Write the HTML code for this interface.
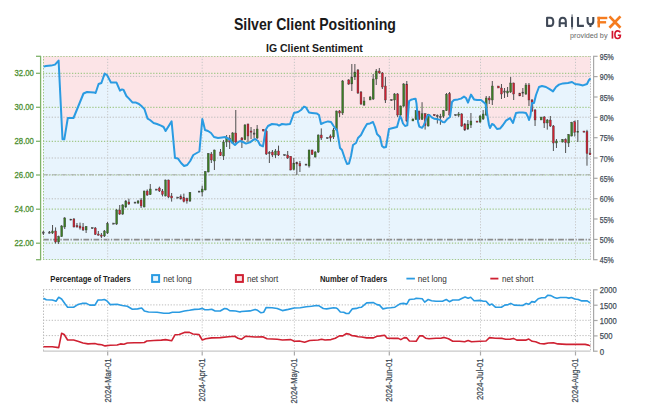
<!DOCTYPE html>
<html><head><meta charset="utf-8"><title>Silver Client Positioning</title>
<style>
html,body{margin:0;padding:0;background:#fff;width:652px;height:410px;overflow:hidden;}
svg{display:block;font-family:"Liberation Sans",sans-serif;}
</style></head>
<body>
<svg width="652" height="410" viewBox="0 0 652 410">
<rect width="652" height="410" fill="#fff"/>
<rect x="43" y="56" width="547.5" height="204" fill="#fce4e7"/>
<polygon points="43,66.6 43.6,66.6 46.0,66.0 51.0,65.6 55.0,64.6 58.6,60.6 62.5,139.3 64.3,139.3 67.8,118.0 73.5,118.0 78.0,107.0 83.5,93.5 87.0,92.0 94.0,92.4 95.6,93.0 98.6,84.0 101.4,83.0 104.6,73.6 107.0,75.0 111.0,82.6 116.4,82.4 120.0,90.6 122.0,89.4 123.6,90.0 126.4,96.0 129.0,98.6 132.4,102.4 136.0,102.6 139.0,104.0 142.0,106.6 144.4,109.0 147.6,118.6 150.0,120.0 153.6,123.0 157.0,124.0 161.0,125.6 163.6,127.0 165.6,131.0 171.6,121.4 175.0,158.0 178.0,158.6 181.1,163.0 184.1,166.0 187.2,165.0 190.2,161.0 193.3,155.0 199.4,151.5 202.3,119.0 203.6,124.0 205.0,130.0 208.0,131.0 211.0,133.0 214.0,137.0 218.0,138.0 222.0,137.4 225.0,137.0 227.0,138.0 230.0,139.6 232.0,142.4 235.0,145.0 237.0,143.0 240.0,141.0 243.0,142.0 246.0,143.6 250.0,142.4 253.0,140.0 255.0,139.0 258.0,141.0 260.0,145.0 263.0,146.4 265.6,130.0 268.0,126.0 272.0,124.0 277.0,124.4 279.0,125.6 282.0,124.0 286.0,124.4 290.0,124.0 294.0,113.0 298.0,112.0 301.0,110.0 304.0,106.6 306.0,107.4 309.0,112.6 312.0,113.0 317.0,113.6 319.0,115.0 321.0,124.0 324.0,122.6 328.0,121.4 331.0,122.0 333.6,126.0 335.0,128.0 337.0,130.0 340.0,148.0 342.0,150.0 345.0,159.0 347.0,164.0 349.0,163.6 351.0,156.0 353.0,145.0 356.0,143.0 358.0,138.0 361.0,135.0 364.0,129.0 367.0,124.0 370.0,123.4 373.0,122.0 375.0,127.0 377.0,134.0 380.0,137.0 382.0,146.0 384.0,147.6 386.0,147.0 389.0,129.0 393.0,128.0 397.0,127.0 400.0,116.2 401.2,118.0 403.0,123.5 405.0,126.0 407.3,125.4 409.1,101.0 411.0,99.8 413.4,99.1 415.6,98.8 416.5,103.4 418.0,121.7 419.3,126.6 422.0,127.8 423.8,125.4 425.6,120.5 427.4,115.6 429.3,115.0 431.7,117.4 434.1,118.7 436.6,119.0 440.2,119.9 442.7,122.0 444.5,122.3 447.0,119.3 450.0,117.0 452.0,102.0 454.0,100.0 458.0,99.4 461.0,98.6 464.0,96.6 466.0,98.0 468.0,102.6 471.0,94.6 474.0,99.4 477.0,100.0 481.0,100.0 484.0,102.6 485.6,104.0 487.0,113.0 489.0,125.0 490.0,128.0 492.0,124.0 494.0,125.0 497.0,129.0 500.0,128.6 503.0,125.0 506.0,120.6 510.0,118.0 513.0,123.0 516.0,113.0 519.0,112.6 523.0,112.6 526.0,113.0 528.0,117.0 529.0,120.0 530.4,116.0 532.0,103.0 534.0,103.0 536.0,95.0 539.0,87.0 542.0,86.0 546.0,87.0 550.0,89.4 553.0,91.4 556.0,87.0 559.0,84.6 563.0,83.4 568.0,83.0 572.0,82.0 575.0,84.0 579.0,84.6 583.0,85.4 587.0,84.0 589.0,80.0 590.5,78.5 590.5,78.5 590.5,260 43,260" fill="#e8f4fd"/>
<line x1="43" y1="73.3" x2="590.5" y2="73.3" stroke="#a3c98b" stroke-width="1.2" stroke-dasharray="1.3 1.6"/>
<line x1="43" y1="107.3" x2="590.5" y2="107.3" stroke="#a3c98b" stroke-width="1.2" stroke-dasharray="1.3 1.6"/>
<line x1="43" y1="141.3" x2="590.5" y2="141.3" stroke="#a3c98b" stroke-width="1.2" stroke-dasharray="1.3 1.6"/>
<line x1="43" y1="175" x2="590.5" y2="175" stroke="#a3c98b" stroke-width="1.2" stroke-dasharray="1.3 1.6"/>
<line x1="43" y1="209.2" x2="590.5" y2="209.2" stroke="#a3c98b" stroke-width="1.2" stroke-dasharray="1.3 1.6"/>
<line x1="43" y1="243.2" x2="590.5" y2="243.2" stroke="#a3c98b" stroke-width="1.2" stroke-dasharray="1.3 1.6"/>
<line x1="43" y1="56.5" x2="590.5" y2="56.5" stroke="#a3c98b" stroke-width="1.2" stroke-dasharray="1.3 1.6"/>
<line x1="43" y1="259.5" x2="590.5" y2="259.5" stroke="#a3c98b" stroke-width="1.2" stroke-dasharray="1.3 1.6"/>
<line x1="43" y1="76.4" x2="590.5" y2="76.4" stroke="#bdbdbd" stroke-width="1" stroke-dasharray="1.3 1.6"/>
<line x1="43" y1="117.2" x2="590.5" y2="117.2" stroke="#bdbdbd" stroke-width="1" stroke-dasharray="1.3 1.6"/>
<line x1="43" y1="158.0" x2="590.5" y2="158.0" stroke="#bdbdbd" stroke-width="1" stroke-dasharray="1.3 1.6"/>
<line x1="43" y1="198.8" x2="590.5" y2="198.8" stroke="#bdbdbd" stroke-width="1" stroke-dasharray="1.3 1.6"/>
<line x1="43" y1="174.8" x2="590.5" y2="174.8" stroke="#9a9a9a" stroke-width="1" stroke-dasharray="5 1.5 1.2 1.5" opacity="0.8"/>
<line x1="43" y1="239.7" x2="590.5" y2="239.7" stroke="#8c8c8c" stroke-width="1.8" stroke-dasharray="5.8 1.5 1.3 1.5"/>
<line x1="107.7" y1="56" x2="107.7" y2="260" stroke="#c6c6c6" stroke-width="1" stroke-dasharray="1.2 1.7"/>
<line x1="202.2" y1="56" x2="202.2" y2="260" stroke="#c6c6c6" stroke-width="1" stroke-dasharray="1.2 1.7"/>
<line x1="294.4" y1="56" x2="294.4" y2="260" stroke="#c6c6c6" stroke-width="1" stroke-dasharray="1.2 1.7"/>
<line x1="389.3" y1="56" x2="389.3" y2="260" stroke="#c6c6c6" stroke-width="1" stroke-dasharray="1.2 1.7"/>
<line x1="480.5" y1="56" x2="480.5" y2="260" stroke="#c6c6c6" stroke-width="1" stroke-dasharray="1.2 1.7"/>
<line x1="575.5" y1="56" x2="575.5" y2="260" stroke="#c6c6c6" stroke-width="1" stroke-dasharray="1.2 1.7"/>
<line x1="43.5" y1="56" x2="43.5" y2="260" stroke="#a3c98b" stroke-width="1" stroke-dasharray="1.5 1.5"/>
<line x1="590.5" y1="56" x2="590.5" y2="260" stroke="#bdbdbd" stroke-width="1" stroke-dasharray="1.3 1.4"/>
<rect x="42.87" y="231.0" width="1" height="4.0" fill="#505050"/>
<rect x="42.42" y="232.0" width="1.9" height="1.2" fill="#555" stroke="#3a3a3a" stroke-width="0.35"/>
<rect x="48.97" y="231.0" width="1" height="2.5" fill="#505050"/>
<rect x="48.52" y="232.0" width="1.9" height="1.2" fill="#555" stroke="#3a3a3a" stroke-width="0.35"/>
<rect x="52.03" y="225.0" width="1" height="9.0" fill="#505050"/>
<rect x="51.58" y="231.0" width="1.9" height="2.0" fill="#3b7d24" stroke="#3a3a3a" stroke-width="0.35"/>
<rect x="55.08" y="227.4" width="1" height="16.2" fill="#505050"/>
<rect x="54.63" y="231.0" width="1.9" height="11.0" fill="#cf2132" stroke="#3a3a3a" stroke-width="0.35"/>
<rect x="58.14" y="235.6" width="1" height="8.4" fill="#505050"/>
<rect x="57.69" y="236.6" width="1.9" height="5.4" fill="#3b7d24" stroke="#3a3a3a" stroke-width="0.35"/>
<rect x="61.19" y="225.0" width="1" height="12.0" fill="#505050"/>
<rect x="60.74" y="226.0" width="1.9" height="10.6" fill="#3b7d24" stroke="#3a3a3a" stroke-width="0.35"/>
<rect x="64.24" y="217.0" width="1" height="12.0" fill="#505050"/>
<rect x="63.79" y="218.0" width="1.9" height="9.0" fill="#3b7d24" stroke="#3a3a3a" stroke-width="0.35"/>
<rect x="70.35" y="219.0" width="1" height="1.0" fill="#505050"/>
<rect x="69.90" y="219.0" width="1.9" height="1.2" fill="#555" stroke="#3a3a3a" stroke-width="0.35"/>
<rect x="73.41" y="218.0" width="1" height="9.4" fill="#505050"/>
<rect x="72.96" y="219.0" width="1.9" height="8.0" fill="#cf2132" stroke="#3a3a3a" stroke-width="0.35"/>
<rect x="76.46" y="223.0" width="1" height="4.6" fill="#505050"/>
<rect x="76.01" y="225.6" width="1.9" height="1.4" fill="#cf2132" stroke="#3a3a3a" stroke-width="0.35"/>
<rect x="79.51" y="222.6" width="1" height="7.0" fill="#505050"/>
<rect x="79.06" y="226.0" width="1.9" height="2.0" fill="#cf2132" stroke="#3a3a3a" stroke-width="0.35"/>
<rect x="82.57" y="223.0" width="1" height="8.0" fill="#505050"/>
<rect x="82.12" y="227.0" width="1.9" height="3.0" fill="#cf2132" stroke="#3a3a3a" stroke-width="0.35"/>
<rect x="85.62" y="226.0" width="1" height="7.0" fill="#505050"/>
<rect x="85.17" y="226.4" width="1.9" height="3.6" fill="#3b7d24" stroke="#3a3a3a" stroke-width="0.35"/>
<rect x="91.73" y="227.5" width="1" height="1.0" fill="#505050"/>
<rect x="91.28" y="227.5" width="1.9" height="1.2" fill="#555" stroke="#3a3a3a" stroke-width="0.35"/>
<rect x="94.78" y="227.0" width="1" height="8.0" fill="#505050"/>
<rect x="94.33" y="228.0" width="1.9" height="6.4" fill="#cf2132" stroke="#3a3a3a" stroke-width="0.35"/>
<rect x="97.84" y="231.0" width="1" height="4.6" fill="#505050"/>
<rect x="97.39" y="234.0" width="1.9" height="1.2" fill="#cf2132" stroke="#3a3a3a" stroke-width="0.35"/>
<rect x="100.89" y="233.0" width="1" height="5.0" fill="#505050"/>
<rect x="100.44" y="235.0" width="1.9" height="1.2" fill="#cf2132" stroke="#3a3a3a" stroke-width="0.35"/>
<rect x="103.95" y="230.0" width="1" height="7.0" fill="#505050"/>
<rect x="103.50" y="231.0" width="1.9" height="5.0" fill="#3b7d24" stroke="#3a3a3a" stroke-width="0.35"/>
<rect x="107.00" y="222.0" width="1" height="12.0" fill="#505050"/>
<rect x="106.55" y="223.6" width="1.9" height="9.4" fill="#3b7d24" stroke="#3a3a3a" stroke-width="0.35"/>
<rect x="113.11" y="223.0" width="1" height="1.0" fill="#505050"/>
<rect x="112.66" y="223.0" width="1.9" height="1.2" fill="#555" stroke="#3a3a3a" stroke-width="0.35"/>
<rect x="116.16" y="209.0" width="1" height="16.0" fill="#505050"/>
<rect x="115.71" y="210.0" width="1.9" height="14.0" fill="#3b7d24" stroke="#3a3a3a" stroke-width="0.35"/>
<rect x="119.22" y="205.0" width="1" height="10.0" fill="#505050"/>
<rect x="118.77" y="210.0" width="1.9" height="4.0" fill="#cf2132" stroke="#3a3a3a" stroke-width="0.35"/>
<rect x="122.27" y="204.0" width="1" height="11.0" fill="#505050"/>
<rect x="121.82" y="205.0" width="1.9" height="9.0" fill="#3b7d24" stroke="#3a3a3a" stroke-width="0.35"/>
<rect x="125.32" y="200.0" width="1" height="8.0" fill="#505050"/>
<rect x="124.87" y="201.0" width="1.9" height="6.0" fill="#3b7d24" stroke="#3a3a3a" stroke-width="0.35"/>
<rect x="128.38" y="198.6" width="1" height="6.4" fill="#505050"/>
<rect x="127.93" y="202.0" width="1.9" height="2.0" fill="#cf2132" stroke="#3a3a3a" stroke-width="0.35"/>
<rect x="134.49" y="202.0" width="1" height="1.0" fill="#505050"/>
<rect x="134.04" y="202.0" width="1.9" height="1.2" fill="#555" stroke="#3a3a3a" stroke-width="0.35"/>
<rect x="137.54" y="200.0" width="1" height="4.0" fill="#505050"/>
<rect x="137.09" y="201.0" width="1.9" height="2.0" fill="#3b7d24" stroke="#3a3a3a" stroke-width="0.35"/>
<rect x="140.59" y="198.0" width="1" height="10.0" fill="#505050"/>
<rect x="140.14" y="200.0" width="1.9" height="6.0" fill="#cf2132" stroke="#3a3a3a" stroke-width="0.35"/>
<rect x="143.65" y="190.6" width="1" height="16.8" fill="#505050"/>
<rect x="143.20" y="191.0" width="1.9" height="16.0" fill="#3b7d24" stroke="#3a3a3a" stroke-width="0.35"/>
<rect x="146.70" y="189.4" width="1" height="6.6" fill="#505050"/>
<rect x="146.25" y="191.0" width="1.9" height="4.0" fill="#cf2132" stroke="#3a3a3a" stroke-width="0.35"/>
<rect x="149.76" y="184.0" width="1" height="11.0" fill="#505050"/>
<rect x="149.31" y="189.0" width="1.9" height="5.6" fill="#3b7d24" stroke="#3a3a3a" stroke-width="0.35"/>
<rect x="155.86" y="189.0" width="1" height="1.0" fill="#505050"/>
<rect x="155.41" y="189.0" width="1.9" height="1.2" fill="#555" stroke="#3a3a3a" stroke-width="0.35"/>
<rect x="158.92" y="186.6" width="1" height="5.4" fill="#505050"/>
<rect x="158.47" y="188.0" width="1.9" height="3.0" fill="#cf2132" stroke="#3a3a3a" stroke-width="0.35"/>
<rect x="161.97" y="189.0" width="1" height="7.4" fill="#505050"/>
<rect x="161.52" y="191.0" width="1.9" height="3.4" fill="#cf2132" stroke="#3a3a3a" stroke-width="0.35"/>
<rect x="165.03" y="179.6" width="1" height="16.8" fill="#505050"/>
<rect x="164.58" y="180.0" width="1.9" height="16.0" fill="#3b7d24" stroke="#3a3a3a" stroke-width="0.35"/>
<rect x="168.08" y="179.6" width="1" height="18.4" fill="#505050"/>
<rect x="167.63" y="180.0" width="1.9" height="17.0" fill="#cf2132" stroke="#3a3a3a" stroke-width="0.35"/>
<rect x="171.13" y="193.0" width="1" height="8.6" fill="#505050"/>
<rect x="170.68" y="196.0" width="1.9" height="2.0" fill="#cf2132" stroke="#3a3a3a" stroke-width="0.35"/>
<rect x="177.24" y="197.0" width="1" height="1.0" fill="#505050"/>
<rect x="176.79" y="197.0" width="1.9" height="1.2" fill="#555" stroke="#3a3a3a" stroke-width="0.35"/>
<rect x="180.30" y="194.4" width="1" height="5.2" fill="#505050"/>
<rect x="179.85" y="196.4" width="1.9" height="2.6" fill="#cf2132" stroke="#3a3a3a" stroke-width="0.35"/>
<rect x="183.35" y="193.6" width="1" height="8.8" fill="#505050"/>
<rect x="182.90" y="197.6" width="1.9" height="4.0" fill="#cf2132" stroke="#3a3a3a" stroke-width="0.35"/>
<rect x="186.40" y="197.6" width="1" height="6.0" fill="#505050"/>
<rect x="185.95" y="198.4" width="1.9" height="2.6" fill="#cf2132" stroke="#3a3a3a" stroke-width="0.35"/>
<rect x="189.46" y="192.0" width="1" height="10.0" fill="#505050"/>
<rect x="189.01" y="192.4" width="1.9" height="8.6" fill="#3b7d24" stroke="#3a3a3a" stroke-width="0.35"/>
<rect x="198.62" y="191.0" width="1" height="1.0" fill="#505050"/>
<rect x="198.17" y="191.0" width="1.9" height="1.2" fill="#555" stroke="#3a3a3a" stroke-width="0.35"/>
<rect x="201.67" y="185.6" width="1" height="10.8" fill="#505050"/>
<rect x="201.22" y="189.0" width="1.9" height="3.0" fill="#3b7d24" stroke="#3a3a3a" stroke-width="0.35"/>
<rect x="204.73" y="171.0" width="1" height="19.4" fill="#505050"/>
<rect x="204.28" y="171.6" width="1.9" height="18.4" fill="#3b7d24" stroke="#3a3a3a" stroke-width="0.35"/>
<rect x="207.78" y="153.0" width="1" height="19.4" fill="#505050"/>
<rect x="207.33" y="153.6" width="1.9" height="18.4" fill="#3b7d24" stroke="#3a3a3a" stroke-width="0.35"/>
<rect x="210.84" y="152.0" width="1" height="11.0" fill="#505050"/>
<rect x="210.39" y="154.0" width="1.9" height="6.0" fill="#cf2132" stroke="#3a3a3a" stroke-width="0.35"/>
<rect x="213.89" y="149.6" width="1" height="20.4" fill="#505050"/>
<rect x="213.44" y="150.0" width="1.9" height="11.0" fill="#3b7d24" stroke="#3a3a3a" stroke-width="0.35"/>
<rect x="220.00" y="149.0" width="1" height="7.0" fill="#505050"/>
<rect x="219.55" y="152.0" width="1.9" height="3.6" fill="#cf2132" stroke="#3a3a3a" stroke-width="0.35"/>
<rect x="223.05" y="140.0" width="1" height="20.0" fill="#505050"/>
<rect x="222.60" y="142.0" width="1.9" height="14.0" fill="#3b7d24" stroke="#3a3a3a" stroke-width="0.35"/>
<rect x="226.11" y="135.0" width="1" height="12.0" fill="#505050"/>
<rect x="225.66" y="138.0" width="1.9" height="4.0" fill="#3b7d24" stroke="#3a3a3a" stroke-width="0.35"/>
<rect x="229.16" y="135.0" width="1" height="14.0" fill="#505050"/>
<rect x="228.71" y="138.0" width="1.9" height="4.0" fill="#cf2132" stroke="#3a3a3a" stroke-width="0.35"/>
<rect x="232.21" y="132.0" width="1" height="12.0" fill="#505050"/>
<rect x="231.76" y="133.0" width="1.9" height="10.0" fill="#3b7d24" stroke="#3a3a3a" stroke-width="0.35"/>
<rect x="235.27" y="110.0" width="1" height="33.0" fill="#505050"/>
<rect x="234.82" y="133.0" width="1.9" height="9.0" fill="#cf2132" stroke="#3a3a3a" stroke-width="0.35"/>
<rect x="241.38" y="137.0" width="1" height="11.0" fill="#505050"/>
<rect x="240.93" y="138.0" width="1.9" height="2.0" fill="#cf2132" stroke="#3a3a3a" stroke-width="0.35"/>
<rect x="244.43" y="124.0" width="1" height="16.0" fill="#505050"/>
<rect x="243.98" y="125.0" width="1.9" height="14.6" fill="#3b7d24" stroke="#3a3a3a" stroke-width="0.35"/>
<rect x="247.48" y="123.6" width="1" height="18.4" fill="#505050"/>
<rect x="247.03" y="124.0" width="1.9" height="12.0" fill="#cf2132" stroke="#3a3a3a" stroke-width="0.35"/>
<rect x="250.54" y="127.0" width="1" height="12.0" fill="#505050"/>
<rect x="250.09" y="131.0" width="1.9" height="1.2" fill="#cf2132" stroke="#3a3a3a" stroke-width="0.35"/>
<rect x="253.59" y="129.0" width="1" height="9.0" fill="#505050"/>
<rect x="253.14" y="133.0" width="1.9" height="1.2" fill="#555" stroke="#3a3a3a" stroke-width="0.35"/>
<rect x="256.65" y="125.0" width="1" height="14.0" fill="#505050"/>
<rect x="256.20" y="129.0" width="1.9" height="9.0" fill="#3b7d24" stroke="#3a3a3a" stroke-width="0.35"/>
<rect x="262.75" y="129.0" width="1" height="2.4" fill="#505050"/>
<rect x="262.30" y="129.4" width="1.9" height="1.6" fill="#cf2132" stroke="#3a3a3a" stroke-width="0.35"/>
<rect x="265.81" y="130.0" width="1" height="25.0" fill="#505050"/>
<rect x="265.36" y="131.0" width="1.9" height="23.0" fill="#cf2132" stroke="#3a3a3a" stroke-width="0.35"/>
<rect x="268.86" y="151.0" width="1" height="12.0" fill="#505050"/>
<rect x="268.41" y="152.5" width="1.9" height="1.2" fill="#555" stroke="#3a3a3a" stroke-width="0.35"/>
<rect x="271.92" y="150.0" width="1" height="7.0" fill="#505050"/>
<rect x="271.47" y="152.0" width="1.9" height="3.0" fill="#cf2132" stroke="#3a3a3a" stroke-width="0.35"/>
<rect x="274.97" y="149.0" width="1" height="9.0" fill="#505050"/>
<rect x="274.52" y="151.0" width="1.9" height="4.0" fill="#3b7d24" stroke="#3a3a3a" stroke-width="0.35"/>
<rect x="278.02" y="145.6" width="1" height="10.4" fill="#505050"/>
<rect x="277.57" y="151.0" width="1.9" height="4.0" fill="#cf2132" stroke="#3a3a3a" stroke-width="0.35"/>
<rect x="284.13" y="154.5" width="1" height="1.0" fill="#505050"/>
<rect x="283.68" y="154.5" width="1.9" height="1.2" fill="#555" stroke="#3a3a3a" stroke-width="0.35"/>
<rect x="287.19" y="151.0" width="1" height="8.0" fill="#505050"/>
<rect x="286.74" y="155.0" width="1.9" height="3.0" fill="#cf2132" stroke="#3a3a3a" stroke-width="0.35"/>
<rect x="290.24" y="156.0" width="1" height="14.4" fill="#505050"/>
<rect x="289.79" y="156.4" width="1.9" height="13.6" fill="#cf2132" stroke="#3a3a3a" stroke-width="0.35"/>
<rect x="293.29" y="158.0" width="1" height="12.4" fill="#505050"/>
<rect x="292.84" y="163.0" width="1.9" height="6.6" fill="#3b7d24" stroke="#3a3a3a" stroke-width="0.35"/>
<rect x="296.35" y="161.6" width="1" height="13.4" fill="#505050"/>
<rect x="295.90" y="162.4" width="1.9" height="1.6" fill="#cf2132" stroke="#3a3a3a" stroke-width="0.35"/>
<rect x="299.40" y="161.0" width="1" height="11.0" fill="#505050"/>
<rect x="298.95" y="163.6" width="1.9" height="2.4" fill="#cf2132" stroke="#3a3a3a" stroke-width="0.35"/>
<rect x="305.51" y="164.0" width="1" height="1.0" fill="#505050"/>
<rect x="305.06" y="164.0" width="1.9" height="1.2" fill="#555" stroke="#3a3a3a" stroke-width="0.35"/>
<rect x="308.56" y="149.6" width="1" height="18.0" fill="#505050"/>
<rect x="308.11" y="150.0" width="1.9" height="16.0" fill="#3b7d24" stroke="#3a3a3a" stroke-width="0.35"/>
<rect x="311.62" y="149.6" width="1" height="5.4" fill="#505050"/>
<rect x="311.17" y="150.0" width="1.9" height="4.4" fill="#cf2132" stroke="#3a3a3a" stroke-width="0.35"/>
<rect x="314.67" y="151.0" width="1" height="6.6" fill="#505050"/>
<rect x="314.22" y="152.0" width="1.9" height="5.0" fill="#3b7d24" stroke="#3a3a3a" stroke-width="0.35"/>
<rect x="317.73" y="134.4" width="1" height="18.6" fill="#505050"/>
<rect x="317.28" y="135.0" width="1.9" height="17.0" fill="#3b7d24" stroke="#3a3a3a" stroke-width="0.35"/>
<rect x="320.78" y="128.4" width="1" height="11.6" fill="#505050"/>
<rect x="320.33" y="135.0" width="1.9" height="3.0" fill="#cf2132" stroke="#3a3a3a" stroke-width="0.35"/>
<rect x="326.89" y="137.5" width="1" height="1.0" fill="#505050"/>
<rect x="326.44" y="137.5" width="1.9" height="1.2" fill="#555" stroke="#3a3a3a" stroke-width="0.35"/>
<rect x="329.94" y="134.4" width="1" height="7.2" fill="#505050"/>
<rect x="329.49" y="136.0" width="1.9" height="2.0" fill="#cf2132" stroke="#3a3a3a" stroke-width="0.35"/>
<rect x="333.00" y="128.0" width="1" height="11.0" fill="#505050"/>
<rect x="332.55" y="130.0" width="1.9" height="7.0" fill="#3b7d24" stroke="#3a3a3a" stroke-width="0.35"/>
<rect x="336.05" y="110.6" width="1" height="20.4" fill="#505050"/>
<rect x="335.60" y="111.0" width="1.9" height="19.0" fill="#3b7d24" stroke="#3a3a3a" stroke-width="0.35"/>
<rect x="339.10" y="110.0" width="1" height="7.0" fill="#505050"/>
<rect x="338.65" y="111.0" width="1.9" height="2.0" fill="#cf2132" stroke="#3a3a3a" stroke-width="0.35"/>
<rect x="342.16" y="80.0" width="1" height="35.0" fill="#505050"/>
<rect x="341.71" y="81.0" width="1.9" height="32.0" fill="#3b7d24" stroke="#3a3a3a" stroke-width="0.35"/>
<rect x="348.27" y="79.0" width="1" height="6.0" fill="#505050"/>
<rect x="347.82" y="80.0" width="1.9" height="4.0" fill="#cf2132" stroke="#3a3a3a" stroke-width="0.35"/>
<rect x="351.32" y="64.0" width="1" height="27.0" fill="#505050"/>
<rect x="350.87" y="77.0" width="1.9" height="7.0" fill="#3b7d24" stroke="#3a3a3a" stroke-width="0.35"/>
<rect x="354.37" y="64.0" width="1" height="16.0" fill="#505050"/>
<rect x="353.92" y="72.0" width="1.9" height="5.0" fill="#3b7d24" stroke="#3a3a3a" stroke-width="0.35"/>
<rect x="357.43" y="69.0" width="1" height="25.0" fill="#505050"/>
<rect x="356.98" y="70.0" width="1.9" height="23.0" fill="#cf2132" stroke="#3a3a3a" stroke-width="0.35"/>
<rect x="360.48" y="91.0" width="1" height="14.0" fill="#505050"/>
<rect x="360.03" y="92.0" width="1.9" height="12.0" fill="#cf2132" stroke="#3a3a3a" stroke-width="0.35"/>
<rect x="363.54" y="97.0" width="1" height="9.0" fill="#505050"/>
<rect x="363.09" y="101.0" width="1.9" height="4.0" fill="#3b7d24" stroke="#3a3a3a" stroke-width="0.35"/>
<rect x="369.64" y="96.0" width="1" height="4.0" fill="#505050"/>
<rect x="369.19" y="97.0" width="1.9" height="3.0" fill="#3b7d24" stroke="#3a3a3a" stroke-width="0.35"/>
<rect x="372.70" y="74.0" width="1" height="26.0" fill="#505050"/>
<rect x="372.25" y="79.0" width="1.9" height="20.0" fill="#3b7d24" stroke="#3a3a3a" stroke-width="0.35"/>
<rect x="375.75" y="69.0" width="1" height="16.0" fill="#505050"/>
<rect x="375.30" y="71.0" width="1.9" height="8.0" fill="#3b7d24" stroke="#3a3a3a" stroke-width="0.35"/>
<rect x="378.81" y="68.0" width="1" height="6.0" fill="#505050"/>
<rect x="378.36" y="71.0" width="1.9" height="2.0" fill="#cf2132" stroke="#3a3a3a" stroke-width="0.35"/>
<rect x="381.86" y="72.0" width="1" height="17.0" fill="#505050"/>
<rect x="381.41" y="73.0" width="1.9" height="14.0" fill="#cf2132" stroke="#3a3a3a" stroke-width="0.35"/>
<rect x="384.91" y="77.0" width="1" height="26.0" fill="#505050"/>
<rect x="384.46" y="86.0" width="1.9" height="14.0" fill="#cf2132" stroke="#3a3a3a" stroke-width="0.35"/>
<rect x="391.02" y="99.5" width="1" height="1.0" fill="#505050"/>
<rect x="390.57" y="99.5" width="1.9" height="1.2" fill="#555" stroke="#3a3a3a" stroke-width="0.35"/>
<rect x="394.08" y="93.0" width="1" height="17.0" fill="#505050"/>
<rect x="393.63" y="94.0" width="1.9" height="6.0" fill="#3b7d24" stroke="#3a3a3a" stroke-width="0.35"/>
<rect x="397.13" y="93.0" width="1" height="24.0" fill="#505050"/>
<rect x="396.68" y="94.0" width="1.9" height="21.0" fill="#cf2132" stroke="#3a3a3a" stroke-width="0.35"/>
<rect x="400.18" y="105.5" width="1" height="11.5" fill="#505050"/>
<rect x="399.73" y="106.0" width="1.9" height="9.0" fill="#3b7d24" stroke="#3a3a3a" stroke-width="0.35"/>
<rect x="403.24" y="83.0" width="1" height="24.0" fill="#505050"/>
<rect x="402.79" y="84.0" width="1.9" height="22.0" fill="#3b7d24" stroke="#3a3a3a" stroke-width="0.35"/>
<rect x="406.29" y="81.0" width="1" height="41.0" fill="#505050"/>
<rect x="405.84" y="84.0" width="1.9" height="37.0" fill="#cf2132" stroke="#3a3a3a" stroke-width="0.35"/>
<rect x="412.40" y="118.5" width="1" height="2.5" fill="#505050"/>
<rect x="411.95" y="119.0" width="1.9" height="2.0" fill="#3b7d24" stroke="#3a3a3a" stroke-width="0.35"/>
<rect x="415.45" y="110.0" width="1" height="10.0" fill="#505050"/>
<rect x="415.00" y="110.7" width="1.9" height="8.6" fill="#3b7d24" stroke="#3a3a3a" stroke-width="0.35"/>
<rect x="418.51" y="110.5" width="1" height="9.5" fill="#505050"/>
<rect x="418.06" y="111.3" width="1.9" height="8.0" fill="#cf2132" stroke="#3a3a3a" stroke-width="0.35"/>
<rect x="421.56" y="102.2" width="1" height="17.8" fill="#505050"/>
<rect x="421.11" y="113.8" width="1.9" height="5.5" fill="#3b7d24" stroke="#3a3a3a" stroke-width="0.35"/>
<rect x="424.62" y="113.2" width="1" height="16.4" fill="#505050"/>
<rect x="424.17" y="113.8" width="1.9" height="11.6" fill="#cf2132" stroke="#3a3a3a" stroke-width="0.35"/>
<rect x="427.67" y="113.8" width="1" height="12.8" fill="#505050"/>
<rect x="427.22" y="114.4" width="1.9" height="11.6" fill="#3b7d24" stroke="#3a3a3a" stroke-width="0.35"/>
<rect x="433.78" y="114.4" width="1" height="1.6" fill="#505050"/>
<rect x="433.33" y="114.4" width="1.9" height="1.2" fill="#cf2132" stroke="#3a3a3a" stroke-width="0.35"/>
<rect x="436.83" y="114.4" width="1" height="9.1" fill="#505050"/>
<rect x="436.38" y="115.5" width="1.9" height="1.2" fill="#555" stroke="#3a3a3a" stroke-width="0.35"/>
<rect x="439.89" y="113.8" width="1" height="11.0" fill="#505050"/>
<rect x="439.44" y="116.5" width="1.9" height="1.2" fill="#555" stroke="#3a3a3a" stroke-width="0.35"/>
<rect x="442.94" y="110.0" width="1" height="8.0" fill="#505050"/>
<rect x="442.49" y="110.7" width="1.9" height="5.5" fill="#3b7d24" stroke="#3a3a3a" stroke-width="0.35"/>
<rect x="445.99" y="93.0" width="1" height="18.0" fill="#505050"/>
<rect x="445.54" y="94.3" width="1.9" height="16.4" fill="#3b7d24" stroke="#3a3a3a" stroke-width="0.35"/>
<rect x="449.05" y="92.0" width="1" height="24.0" fill="#505050"/>
<rect x="448.60" y="93.7" width="1.9" height="21.3" fill="#cf2132" stroke="#3a3a3a" stroke-width="0.35"/>
<rect x="455.16" y="114.5" width="1" height="1.0" fill="#505050"/>
<rect x="454.71" y="114.5" width="1.9" height="1.2" fill="#555" stroke="#3a3a3a" stroke-width="0.35"/>
<rect x="458.21" y="112.0" width="1" height="5.0" fill="#505050"/>
<rect x="457.76" y="114.0" width="1.9" height="1.2" fill="#3b7d24" stroke="#3a3a3a" stroke-width="0.35"/>
<rect x="461.26" y="113.0" width="1" height="14.0" fill="#505050"/>
<rect x="460.81" y="114.0" width="1.9" height="12.0" fill="#cf2132" stroke="#3a3a3a" stroke-width="0.35"/>
<rect x="464.32" y="123.0" width="1" height="8.0" fill="#505050"/>
<rect x="463.87" y="124.0" width="1.9" height="6.0" fill="#cf2132" stroke="#3a3a3a" stroke-width="0.35"/>
<rect x="467.37" y="120.0" width="1" height="10.0" fill="#505050"/>
<rect x="466.92" y="124.0" width="1.9" height="5.0" fill="#3b7d24" stroke="#3a3a3a" stroke-width="0.35"/>
<rect x="470.43" y="113.0" width="1" height="15.0" fill="#505050"/>
<rect x="469.98" y="121.0" width="1.9" height="4.0" fill="#3b7d24" stroke="#3a3a3a" stroke-width="0.35"/>
<rect x="476.53" y="121.0" width="1" height="1.0" fill="#505050"/>
<rect x="476.08" y="121.0" width="1.9" height="1.2" fill="#cf2132" stroke="#3a3a3a" stroke-width="0.35"/>
<rect x="479.59" y="115.0" width="1" height="8.0" fill="#505050"/>
<rect x="479.14" y="116.0" width="1.9" height="6.0" fill="#3b7d24" stroke="#3a3a3a" stroke-width="0.35"/>
<rect x="482.64" y="110.0" width="1" height="10.0" fill="#505050"/>
<rect x="482.19" y="114.0" width="1.9" height="5.0" fill="#3b7d24" stroke="#3a3a3a" stroke-width="0.35"/>
<rect x="485.70" y="96.0" width="1" height="20.0" fill="#505050"/>
<rect x="485.25" y="98.0" width="1.9" height="17.0" fill="#3b7d24" stroke="#3a3a3a" stroke-width="0.35"/>
<rect x="488.75" y="96.0" width="1" height="8.0" fill="#505050"/>
<rect x="488.30" y="98.0" width="1.9" height="2.0" fill="#cf2132" stroke="#3a3a3a" stroke-width="0.35"/>
<rect x="491.80" y="81.0" width="1" height="24.0" fill="#505050"/>
<rect x="491.35" y="86.0" width="1.9" height="14.0" fill="#3b7d24" stroke="#3a3a3a" stroke-width="0.35"/>
<rect x="497.91" y="86.0" width="1" height="2.0" fill="#505050"/>
<rect x="497.46" y="86.0" width="1.9" height="2.0" fill="#cf2132" stroke="#3a3a3a" stroke-width="0.35"/>
<rect x="500.97" y="84.0" width="1" height="15.0" fill="#505050"/>
<rect x="500.52" y="88.0" width="1.9" height="6.0" fill="#cf2132" stroke="#3a3a3a" stroke-width="0.35"/>
<rect x="504.02" y="88.0" width="1" height="10.0" fill="#505050"/>
<rect x="503.57" y="91.0" width="1.9" height="1.2" fill="#555" stroke="#3a3a3a" stroke-width="0.35"/>
<rect x="507.07" y="87.0" width="1" height="10.0" fill="#505050"/>
<rect x="506.62" y="91.0" width="1.9" height="2.0" fill="#3b7d24" stroke="#3a3a3a" stroke-width="0.35"/>
<rect x="510.13" y="77.0" width="1" height="16.0" fill="#505050"/>
<rect x="509.68" y="83.0" width="1.9" height="9.0" fill="#3b7d24" stroke="#3a3a3a" stroke-width="0.35"/>
<rect x="513.18" y="82.6" width="1" height="17.4" fill="#505050"/>
<rect x="512.73" y="83.0" width="1.9" height="11.0" fill="#cf2132" stroke="#3a3a3a" stroke-width="0.35"/>
<rect x="519.29" y="93.0" width="1" height="3.0" fill="#505050"/>
<rect x="518.84" y="93.0" width="1.9" height="3.0" fill="#cf2132" stroke="#3a3a3a" stroke-width="0.35"/>
<rect x="522.34" y="88.0" width="1" height="9.0" fill="#505050"/>
<rect x="521.89" y="92.0" width="1.9" height="1.2" fill="#555" stroke="#3a3a3a" stroke-width="0.35"/>
<rect x="525.40" y="83.0" width="1" height="12.0" fill="#505050"/>
<rect x="524.95" y="85.0" width="1.9" height="9.0" fill="#3b7d24" stroke="#3a3a3a" stroke-width="0.35"/>
<rect x="528.45" y="83.0" width="1" height="23.0" fill="#505050"/>
<rect x="528.00" y="85.0" width="1.9" height="15.0" fill="#cf2132" stroke="#3a3a3a" stroke-width="0.35"/>
<rect x="531.51" y="99.0" width="1" height="13.0" fill="#505050"/>
<rect x="531.06" y="100.0" width="1.9" height="11.0" fill="#cf2132" stroke="#3a3a3a" stroke-width="0.35"/>
<rect x="534.56" y="109.0" width="1" height="17.0" fill="#505050"/>
<rect x="534.11" y="110.0" width="1.9" height="10.0" fill="#cf2132" stroke="#3a3a3a" stroke-width="0.35"/>
<rect x="540.67" y="117.0" width="1" height="3.0" fill="#505050"/>
<rect x="540.22" y="117.0" width="1.9" height="3.0" fill="#3b7d24" stroke="#3a3a3a" stroke-width="0.35"/>
<rect x="543.72" y="116.0" width="1" height="12.0" fill="#505050"/>
<rect x="543.27" y="117.0" width="1.9" height="6.0" fill="#cf2132" stroke="#3a3a3a" stroke-width="0.35"/>
<rect x="546.78" y="119.0" width="1" height="10.6" fill="#505050"/>
<rect x="546.33" y="120.0" width="1.9" height="3.0" fill="#3b7d24" stroke="#3a3a3a" stroke-width="0.35"/>
<rect x="549.83" y="116.0" width="1" height="11.0" fill="#505050"/>
<rect x="549.38" y="120.0" width="1.9" height="6.0" fill="#cf2132" stroke="#3a3a3a" stroke-width="0.35"/>
<rect x="552.88" y="125.0" width="1" height="26.0" fill="#505050"/>
<rect x="552.43" y="126.0" width="1.9" height="17.0" fill="#cf2132" stroke="#3a3a3a" stroke-width="0.35"/>
<rect x="555.94" y="139.0" width="1" height="9.0" fill="#505050"/>
<rect x="555.49" y="141.0" width="1.9" height="2.0" fill="#3b7d24" stroke="#3a3a3a" stroke-width="0.35"/>
<rect x="562.05" y="139.0" width="1" height="3.5" fill="#505050"/>
<rect x="561.60" y="139.5" width="1.9" height="2.5" fill="#3b7d24" stroke="#3a3a3a" stroke-width="0.35"/>
<rect x="565.10" y="138.3" width="1" height="14.7" fill="#505050"/>
<rect x="564.65" y="139.5" width="1.9" height="3.1" fill="#cf2132" stroke="#3a3a3a" stroke-width="0.35"/>
<rect x="568.15" y="134.0" width="1" height="13.0" fill="#505050"/>
<rect x="567.70" y="134.6" width="1.9" height="8.4" fill="#3b7d24" stroke="#3a3a3a" stroke-width="0.35"/>
<rect x="571.21" y="121.8" width="1" height="14.7" fill="#505050"/>
<rect x="570.76" y="122.4" width="1.9" height="13.6" fill="#3b7d24" stroke="#3a3a3a" stroke-width="0.35"/>
<rect x="574.26" y="120.6" width="1" height="15.9" fill="#505050"/>
<rect x="573.81" y="121.8" width="1.9" height="10.4" fill="#cf2132" stroke="#3a3a3a" stroke-width="0.35"/>
<rect x="577.32" y="120.0" width="1" height="22.0" fill="#505050"/>
<rect x="576.87" y="131.2" width="1.9" height="1.2" fill="#3b7d24" stroke="#3a3a3a" stroke-width="0.35"/>
<rect x="583.42" y="131.0" width="1" height="1.2" fill="#505050"/>
<rect x="582.97" y="131.0" width="1.9" height="1.2" fill="#cf2132" stroke="#3a3a3a" stroke-width="0.35"/>
<rect x="586.48" y="129.8" width="1" height="35.9" fill="#505050"/>
<rect x="586.03" y="131.6" width="1.9" height="21.9" fill="#cf2132" stroke="#3a3a3a" stroke-width="0.35"/>
<rect x="589.53" y="148.0" width="1" height="6.8" fill="#505050"/>
<rect x="589.08" y="153.0" width="1.9" height="1.8" fill="#cf2132" stroke="#3a3a3a" stroke-width="0.35"/>
<polyline points="43.6,66.6 46.0,66.0 51.0,65.6 55.0,64.6 58.6,60.6 62.5,139.3 64.3,139.3 67.8,118.0 73.5,118.0 78.0,107.0 83.5,93.5 87.0,92.0 94.0,92.4 95.6,93.0 98.6,84.0 101.4,83.0 104.6,73.6 107.0,75.0 111.0,82.6 116.4,82.4 120.0,90.6 122.0,89.4 123.6,90.0 126.4,96.0 129.0,98.6 132.4,102.4 136.0,102.6 139.0,104.0 142.0,106.6 144.4,109.0 147.6,118.6 150.0,120.0 153.6,123.0 157.0,124.0 161.0,125.6 163.6,127.0 165.6,131.0 171.6,121.4 175.0,158.0 178.0,158.6 181.1,163.0 184.1,166.0 187.2,165.0 190.2,161.0 193.3,155.0 199.4,151.5 202.3,119.0 203.6,124.0 205.0,130.0 208.0,131.0 211.0,133.0 214.0,137.0 218.0,138.0 222.0,137.4 225.0,137.0 227.0,138.0 230.0,139.6 232.0,142.4 235.0,145.0 237.0,143.0 240.0,141.0 243.0,142.0 246.0,143.6 250.0,142.4 253.0,140.0 255.0,139.0 258.0,141.0 260.0,145.0 263.0,146.4 265.6,130.0 268.0,126.0 272.0,124.0 277.0,124.4 279.0,125.6 282.0,124.0 286.0,124.4 290.0,124.0 294.0,113.0 298.0,112.0 301.0,110.0 304.0,106.6 306.0,107.4 309.0,112.6 312.0,113.0 317.0,113.6 319.0,115.0 321.0,124.0 324.0,122.6 328.0,121.4 331.0,122.0 333.6,126.0 335.0,128.0 337.0,130.0 340.0,148.0 342.0,150.0 345.0,159.0 347.0,164.0 349.0,163.6 351.0,156.0 353.0,145.0 356.0,143.0 358.0,138.0 361.0,135.0 364.0,129.0 367.0,124.0 370.0,123.4 373.0,122.0 375.0,127.0 377.0,134.0 380.0,137.0 382.0,146.0 384.0,147.6 386.0,147.0 389.0,129.0 393.0,128.0 397.0,127.0 400.0,116.2 401.2,118.0 403.0,123.5 405.0,126.0 407.3,125.4 409.1,101.0 411.0,99.8 413.4,99.1 415.6,98.8 416.5,103.4 418.0,121.7 419.3,126.6 422.0,127.8 423.8,125.4 425.6,120.5 427.4,115.6 429.3,115.0 431.7,117.4 434.1,118.7 436.6,119.0 440.2,119.9 442.7,122.0 444.5,122.3 447.0,119.3 450.0,117.0 452.0,102.0 454.0,100.0 458.0,99.4 461.0,98.6 464.0,96.6 466.0,98.0 468.0,102.6 471.0,94.6 474.0,99.4 477.0,100.0 481.0,100.0 484.0,102.6 485.6,104.0 487.0,113.0 489.0,125.0 490.0,128.0 492.0,124.0 494.0,125.0 497.0,129.0 500.0,128.6 503.0,125.0 506.0,120.6 510.0,118.0 513.0,123.0 516.0,113.0 519.0,112.6 523.0,112.6 526.0,113.0 528.0,117.0 529.0,120.0 530.4,116.0 532.0,103.0 534.0,103.0 536.0,95.0 539.0,87.0 542.0,86.0 546.0,87.0 550.0,89.4 553.0,91.4 556.0,87.0 559.0,84.6 563.0,83.4 568.0,83.0 572.0,82.0 575.0,84.0 579.0,84.6 583.0,85.4 587.0,84.0 589.0,80.0 590.5,78.5" fill="none" stroke="#2a9be2" stroke-width="2" stroke-linejoin="round"/>
<line x1="40.6" y1="56" x2="40.6" y2="260" stroke="#7fb36a" stroke-width="1.3"/>
<line x1="36" y1="56.3" x2="41" y2="56.3" stroke="#7fb36a" stroke-width="1.3"/>
<line x1="36" y1="73.3" x2="41" y2="73.3" stroke="#7fb36a" stroke-width="1.3"/>
<line x1="36" y1="107.3" x2="41" y2="107.3" stroke="#7fb36a" stroke-width="1.3"/>
<line x1="36" y1="141.3" x2="41" y2="141.3" stroke="#7fb36a" stroke-width="1.3"/>
<line x1="36" y1="175" x2="41" y2="175" stroke="#7fb36a" stroke-width="1.3"/>
<line x1="36" y1="209.2" x2="41" y2="209.2" stroke="#7fb36a" stroke-width="1.3"/>
<line x1="36" y1="243.2" x2="41" y2="243.2" stroke="#7fb36a" stroke-width="1.3"/>
<line x1="36" y1="259.7" x2="41" y2="259.7" stroke="#7fb36a" stroke-width="1.3"/>
<text x="33.8" y="75.9" text-anchor="end" font-size="9" fill="#4c8f31" stroke="#4c8f31" stroke-width="0.3" textLength="19.2" lengthAdjust="spacingAndGlyphs">32.00</text>
<text x="33.8" y="109.9" text-anchor="end" font-size="9" fill="#4c8f31" stroke="#4c8f31" stroke-width="0.3" textLength="19.2" lengthAdjust="spacingAndGlyphs">30.00</text>
<text x="33.8" y="143.9" text-anchor="end" font-size="9" fill="#4c8f31" stroke="#4c8f31" stroke-width="0.3" textLength="19.2" lengthAdjust="spacingAndGlyphs">28.00</text>
<text x="33.8" y="177.6" text-anchor="end" font-size="9" fill="#4c8f31" stroke="#4c8f31" stroke-width="0.3" textLength="19.2" lengthAdjust="spacingAndGlyphs">26.00</text>
<text x="33.8" y="211.8" text-anchor="end" font-size="9" fill="#4c8f31" stroke="#4c8f31" stroke-width="0.3" textLength="19.2" lengthAdjust="spacingAndGlyphs">24.00</text>
<text x="33.8" y="245.8" text-anchor="end" font-size="9" fill="#4c8f31" stroke="#4c8f31" stroke-width="0.3" textLength="19.2" lengthAdjust="spacingAndGlyphs">22.00</text>
<line x1="593.6" y1="56.3" x2="593.6" y2="259.8" stroke="#a8a8a8" stroke-width="1.2"/>
<line x1="593" y1="56.3" x2="597.6" y2="56.3" stroke="#a8a8a8" stroke-width="1.2"/>
<text x="599.8" y="59.8" font-size="9.3" fill="#414b56" stroke="#414b56" stroke-width="0.25" textLength="14" lengthAdjust="spacingAndGlyphs">95%</text>
<line x1="593" y1="76.6" x2="597.6" y2="76.6" stroke="#a8a8a8" stroke-width="1.2"/>
<text x="599.8" y="80.1" font-size="9.3" fill="#414b56" stroke="#414b56" stroke-width="0.25" textLength="14" lengthAdjust="spacingAndGlyphs">90%</text>
<line x1="593" y1="97.0" x2="597.6" y2="97.0" stroke="#a8a8a8" stroke-width="1.2"/>
<text x="599.8" y="100.5" font-size="9.3" fill="#414b56" stroke="#414b56" stroke-width="0.25" textLength="14" lengthAdjust="spacingAndGlyphs">85%</text>
<line x1="593" y1="117.3" x2="597.6" y2="117.3" stroke="#a8a8a8" stroke-width="1.2"/>
<text x="599.8" y="120.8" font-size="9.3" fill="#414b56" stroke="#414b56" stroke-width="0.25" textLength="14" lengthAdjust="spacingAndGlyphs">80%</text>
<line x1="593" y1="137.7" x2="597.6" y2="137.7" stroke="#a8a8a8" stroke-width="1.2"/>
<text x="599.8" y="141.2" font-size="9.3" fill="#414b56" stroke="#414b56" stroke-width="0.25" textLength="14" lengthAdjust="spacingAndGlyphs">75%</text>
<line x1="593" y1="158.0" x2="597.6" y2="158.0" stroke="#a8a8a8" stroke-width="1.2"/>
<text x="599.8" y="161.5" font-size="9.3" fill="#414b56" stroke="#414b56" stroke-width="0.25" textLength="14" lengthAdjust="spacingAndGlyphs">70%</text>
<line x1="593" y1="178.3" x2="597.6" y2="178.3" stroke="#a8a8a8" stroke-width="1.2"/>
<text x="599.8" y="181.8" font-size="9.3" fill="#414b56" stroke="#414b56" stroke-width="0.25" textLength="14" lengthAdjust="spacingAndGlyphs">65%</text>
<line x1="593" y1="198.7" x2="597.6" y2="198.7" stroke="#a8a8a8" stroke-width="1.2"/>
<text x="599.8" y="202.2" font-size="9.3" fill="#414b56" stroke="#414b56" stroke-width="0.25" textLength="14" lengthAdjust="spacingAndGlyphs">60%</text>
<line x1="593" y1="219.0" x2="597.6" y2="219.0" stroke="#a8a8a8" stroke-width="1.2"/>
<text x="599.8" y="222.5" font-size="9.3" fill="#414b56" stroke="#414b56" stroke-width="0.25" textLength="14" lengthAdjust="spacingAndGlyphs">55%</text>
<line x1="593" y1="239.4" x2="597.6" y2="239.4" stroke="#a8a8a8" stroke-width="1.2"/>
<text x="599.8" y="242.9" font-size="9.3" fill="#414b56" stroke="#414b56" stroke-width="0.25" textLength="14" lengthAdjust="spacingAndGlyphs">50%</text>
<line x1="593" y1="259.7" x2="597.6" y2="259.7" stroke="#a8a8a8" stroke-width="1.2"/>
<text x="599.8" y="263.2" font-size="9.3" fill="#414b56" stroke="#414b56" stroke-width="0.25" textLength="14" lengthAdjust="spacingAndGlyphs">45%</text>
<line x1="43" y1="289.6" x2="590.5" y2="289.6" stroke="#bdbdbd" stroke-width="1" stroke-dasharray="1.3 1.6"/>
<line x1="43" y1="304.9" x2="590.5" y2="304.9" stroke="#bdbdbd" stroke-width="1" stroke-dasharray="1.3 1.6"/>
<line x1="43" y1="320.3" x2="590.5" y2="320.3" stroke="#bdbdbd" stroke-width="1" stroke-dasharray="1.3 1.6"/>
<line x1="43" y1="335.6" x2="590.5" y2="335.6" stroke="#bdbdbd" stroke-width="1" stroke-dasharray="1.3 1.6"/>
<line x1="107.7" y1="289.5" x2="107.7" y2="351" stroke="#c6c6c6" stroke-width="1" stroke-dasharray="1.2 1.7"/>
<line x1="107.7" y1="351" x2="107.7" y2="355.5" stroke="#aaa" stroke-width="1.2"/>
<line x1="202.2" y1="289.5" x2="202.2" y2="351" stroke="#c6c6c6" stroke-width="1" stroke-dasharray="1.2 1.7"/>
<line x1="202.2" y1="351" x2="202.2" y2="355.5" stroke="#aaa" stroke-width="1.2"/>
<line x1="294.4" y1="289.5" x2="294.4" y2="351" stroke="#c6c6c6" stroke-width="1" stroke-dasharray="1.2 1.7"/>
<line x1="294.4" y1="351" x2="294.4" y2="355.5" stroke="#aaa" stroke-width="1.2"/>
<line x1="389.3" y1="289.5" x2="389.3" y2="351" stroke="#c6c6c6" stroke-width="1" stroke-dasharray="1.2 1.7"/>
<line x1="389.3" y1="351" x2="389.3" y2="355.5" stroke="#aaa" stroke-width="1.2"/>
<line x1="480.5" y1="289.5" x2="480.5" y2="351" stroke="#c6c6c6" stroke-width="1" stroke-dasharray="1.2 1.7"/>
<line x1="480.5" y1="351" x2="480.5" y2="355.5" stroke="#aaa" stroke-width="1.2"/>
<line x1="575.5" y1="289.5" x2="575.5" y2="351" stroke="#c6c6c6" stroke-width="1" stroke-dasharray="1.2 1.7"/>
<line x1="575.5" y1="351" x2="575.5" y2="355.5" stroke="#aaa" stroke-width="1.2"/>
<line x1="43.5" y1="289.5" x2="43.5" y2="351" stroke="#bdbdbd" stroke-width="1" stroke-dasharray="1.5 1.5"/>
<line x1="590.5" y1="289.5" x2="590.5" y2="351" stroke="#bdbdbd" stroke-width="1" stroke-dasharray="1.3 1.4"/>
<line x1="43" y1="351.2" x2="590.5" y2="351.2" stroke="#c8c8c8" stroke-width="1.2"/>
<polyline points="43.4,298.3 46.3,299.8 52.2,300 54.8,300.7 56,301.2 58.7,297.3 61.6,299 65,303.8 67.6,307.2 73.6,307.2 77.8,304.6 82.1,303.4 86.4,303.4 89.8,305.1 94.9,305.1 98,300 101.7,300 104.3,299.5 106.8,300.7 110.3,304.6 117.1,304.3 122.2,305.5 127.3,306.3 132.4,309.2 137.6,308.9 141.7,308 144.3,310.9 148.5,312 157.1,312.3 163.9,313.2 169,313.2 172.4,312.3 179.2,312.3 184.4,311 189.5,310.3 194.6,309.4 198.9,309.2 202.3,308.4 204.8,309.7 208.3,309.7 211.7,309.2 215.1,311 220.2,311 224.5,308.5 227,308.9 229.6,310.6 235.6,311 240,312 241.4,311.5 250,310.9 255.1,309.4 257.6,310.3 261,312.8 263.6,312.3 266.2,307.5 272.1,307.7 277.2,308.5 282.4,310.6 288.3,309.4 294.3,308 300.3,307.7 306.3,306.8 311.4,306.3 316.5,305.5 319.1,305.8 323.3,308.5 326.7,308.9 333.6,307.7 336.1,308 337.7,308.9 340.3,312 343.7,312.3 346.2,313.5 348.8,313.5 352.2,308.9 356.5,308.4 359,307.5 361.6,307.2 366.7,302.9 373.5,302.6 377,304.6 379.5,305.1 382.9,308.9 387.2,308 390.6,307.7 394.9,307.2 400,303.8 403.4,303.4 406.8,304.1 409.4,299.5 414.5,299 416.2,298.3 422.2,298.7 424.7,302.1 428.2,299.5 431.6,300.7 436,301.2 442.5,301.2 446.3,299.5 449.4,301.7 452.8,300 458.7,300 462.2,298.3 465.1,297 468.1,298.3 470.7,297.3 474.1,300.7 480.1,300.4 483.5,301.2 486,301.2 489.5,305.1 492,304.1 495.4,307.2 501.4,307.2 504.8,305.1 508.2,304.6 510.8,303.4 514.2,305.1 522.7,305.5 526.2,303.4 528.8,304.3 531.8,301.6 534.7,302.1 538.2,298.7 541.6,297.8 545,297.8 547.9,295.2 551,295.6 554.4,297.5 556.9,298.3 560.3,297.5 566.3,297.5 568.9,298.1 571.4,297.5 574.8,299 578.3,299.5 581.7,300.9 586.8,300.7 590.2,302.9" fill="none" stroke="#2a9be2" stroke-width="1.6" stroke-linejoin="round"/>
<polyline points="43.4,346.8 52.2,346.8 58.7,347.6 61.6,333.3 64.2,334.5 67.6,340 73.6,340 77.8,341.3 83,343 88,343.9 94.9,343.5 98.3,344.4 101.7,344.7 105.1,345.9 110.3,345.2 117.1,345 120.5,343.9 123.9,344.2 127.3,343 134.2,342.7 140,342.7 144.3,342.5 146.8,341 153.7,340.5 161.3,340.1 165.6,339.6 171.6,340.8 175,334.8 179.2,334.5 184.4,332.4 189.5,332.4 192.9,334 198.9,334.5 202.3,340 205.7,338.8 211.7,337.9 220.2,337.6 228.7,336.7 234.7,336.2 238,338.2 241.4,339.3 245.7,336.2 255.1,337 262.7,336.7 267,338.8 277.2,339.3 282.4,340 290.9,339.6 294.3,341.3 299.4,341 304.6,342.2 309.7,340.5 318.2,340 321.6,339.3 325,340 331,339.6 335.3,338.2 339.4,335.9 342.8,335.9 346.2,333.6 348.8,334 352.2,335.7 354.8,335.9 358.2,336.7 361.6,337 366.7,337.9 373.5,337.9 377,336.2 380.4,335.9 384.6,335.3 387.2,338.2 394,338.4 398.3,338.4 400.8,339.6 404.3,337.6 406.8,337.9 409.4,341 416.2,341.3 419.6,335.9 422.2,335.7 425.6,338.2 429,338.8 436,338.2 440.8,338.2 444.2,337.4 448.5,338.8 452.8,341.3 459.6,341.3 464.7,341.8 468.1,340.5 471.5,341.8 480.1,341.3 486,341 489.5,337.6 495.4,338.2 502.3,338.4 505.7,339.3 509.9,339.3 513.4,338.4 516.8,340.1 526.2,340.1 528.8,339.1 532.2,341.3 535.6,341.7 539.9,343.5 544.1,343.9 548.4,343 553.5,342.7 557.8,343.9 566.3,344.4 573.1,344.4 585.1,344.4 588.5,345.1 590.2,345.9" fill="none" stroke="#cf2132" stroke-width="1.6" stroke-linejoin="round"/>
<line x1="593.6" y1="289.8" x2="593.6" y2="351.2" stroke="#a8a8a8" stroke-width="1.2"/>
<line x1="593" y1="289.8" x2="597.6" y2="289.8" stroke="#a8a8a8" stroke-width="1.2"/>
<text x="599.8" y="293.3" font-size="9.3" fill="#414b56" stroke="#414b56" stroke-width="0.25" textLength="16.8" lengthAdjust="spacingAndGlyphs">2000</text>
<line x1="593" y1="305.2" x2="597.6" y2="305.2" stroke="#a8a8a8" stroke-width="1.2"/>
<text x="599.8" y="308.7" font-size="9.3" fill="#414b56" stroke="#414b56" stroke-width="0.25" textLength="16.8" lengthAdjust="spacingAndGlyphs">1500</text>
<line x1="593" y1="320.5" x2="597.6" y2="320.5" stroke="#a8a8a8" stroke-width="1.2"/>
<text x="599.8" y="324.0" font-size="9.3" fill="#414b56" stroke="#414b56" stroke-width="0.25" textLength="16.8" lengthAdjust="spacingAndGlyphs">1000</text>
<line x1="593" y1="335.9" x2="597.6" y2="335.9" stroke="#a8a8a8" stroke-width="1.2"/>
<text x="599.8" y="339.4" font-size="9.3" fill="#414b56" stroke="#414b56" stroke-width="0.25" textLength="12.7" lengthAdjust="spacingAndGlyphs">500</text>
<line x1="593" y1="351.2" x2="597.6" y2="351.2" stroke="#a8a8a8" stroke-width="1.2"/>
<text x="599.8" y="354.7" font-size="9.3" fill="#414b56" stroke="#414b56" stroke-width="0.25" textLength="4.4" lengthAdjust="spacingAndGlyphs">0</text>
<text transform="translate(110.6,358.4) rotate(-90)" text-anchor="end" font-size="9.7" fill="#414b56" stroke="#414b56" stroke-width="0.25" textLength="44.2" lengthAdjust="spacingAndGlyphs">2024-Mar-01</text>
<text transform="translate(205.1,358.4) rotate(-90)" text-anchor="end" font-size="9.7" fill="#414b56" stroke="#414b56" stroke-width="0.25" textLength="43" lengthAdjust="spacingAndGlyphs">2024-Apr-01</text>
<text transform="translate(297.3,358.4) rotate(-90)" text-anchor="end" font-size="9.7" fill="#414b56" stroke="#414b56" stroke-width="0.25" textLength="45" lengthAdjust="spacingAndGlyphs">2024-May-01</text>
<text transform="translate(392.2,358.4) rotate(-90)" text-anchor="end" font-size="9.7" fill="#414b56" stroke="#414b56" stroke-width="0.25" textLength="43.4" lengthAdjust="spacingAndGlyphs">2024-Jun-01</text>
<text transform="translate(483.4,358.4) rotate(-90)" text-anchor="end" font-size="9.7" fill="#414b56" stroke="#414b56" stroke-width="0.25" textLength="41.7" lengthAdjust="spacingAndGlyphs">2024-Jul-01</text>
<text transform="translate(578.4,358.4) rotate(-90)" text-anchor="end" font-size="9.7" fill="#414b56" stroke="#414b56" stroke-width="0.25" textLength="44.2" lengthAdjust="spacingAndGlyphs">2024-Aug-01</text>
<text x="50.3" y="281.7" font-size="9.5" font-weight="bold" fill="#222" textLength="80.5" lengthAdjust="spacingAndGlyphs">Percentage of Traders</text>
<rect x="152.1" y="275.1" width="7" height="6.8" fill="#e8f4fd" stroke="#2a9be2" stroke-width="2"/>
<text x="163.2" y="281.6" font-size="9" fill="#333" textLength="28.5" lengthAdjust="spacingAndGlyphs">net long</text>
<rect x="235.9" y="275.1" width="7" height="6.8" fill="#fce4e7" stroke="#cf2132" stroke-width="2"/>
<text x="246.9" y="281.6" font-size="9" fill="#333" textLength="31.4" lengthAdjust="spacingAndGlyphs">net short</text>
<text x="319.9" y="281.7" font-size="9.5" font-weight="bold" fill="#222" textLength="67.4" lengthAdjust="spacingAndGlyphs">Number of Traders</text>
<line x1="406.4" y1="278.6" x2="414.9" y2="278.6" stroke="#2a9be2" stroke-width="1.8"/>
<text x="417.8" y="281.6" font-size="9" fill="#333" textLength="29.1" lengthAdjust="spacingAndGlyphs">net long</text>
<line x1="490.3" y1="278.6" x2="498.4" y2="278.6" stroke="#cf2132" stroke-width="1.8"/>
<text x="502.1" y="281.6" font-size="9" fill="#333" textLength="31.3" lengthAdjust="spacingAndGlyphs">net short</text>
<text x="233.9" y="30.1" font-size="16.4" font-weight="bold" fill="#1a1a1a" textLength="162" lengthAdjust="spacingAndGlyphs">Silver Client Positioning</text>
<text x="266" y="51.9" font-size="11" font-weight="bold" fill="#1a1a1a" textLength="96.8" lengthAdjust="spacingAndGlyphs">IG Client Sentiment</text>
<g fill="none" stroke="#404957" stroke-width="2.1" stroke-linejoin="round">
<path d="M547.1,17.8 H550.2 Q553.3,17.8 553.3,21.9 Q553.3,25.9 550.2,25.9 H547.1 Z"/>
<path d="M559.7,26.9 V21.6 Q559.7,17.8 562.75,17.8 Q565.8,17.8 565.8,21.6 V26.9 M559.7,23.2 H565.8"/>
<path d="M578,16.9 V25.9 H583.9"/>
<path d="M587.6,16.9 V21.3 Q587.6,24.4 590.45,24.4 Q593.3,24.4 593.3,21.3 V16.9 M590.45,24.4 V26.9"/>
</g>
<rect x="571.6" y="14.4" width="0.9" height="15" fill="#404957"/>
<rect x="571.05" y="16.9" width="2" height="10.2" fill="#404957"/>
<rect x="597.5" y="16.8" width="2.5" height="10.6" fill="#f57c1f"/>
<rect x="597.5" y="16.8" width="9.8" height="2.4" fill="#f57c1f"/>
<rect x="597.5" y="21.1" width="8.6" height="2.4" fill="#f57c1f"/>
<path d="M610.4,17.4 L619.5,26.8 M619.5,17.4 L610.4,26.8" stroke="#f57c1f" stroke-width="2.7" stroke-linecap="square"/>
<text x="570.1" y="38.1" font-size="8" fill="#666" textLength="37.4" lengthAdjust="spacingAndGlyphs">provided by</text>
<rect x="611.6" y="30.8" width="1.7" height="7.8" fill="#d3122d"/>
<path d="M620.3,32.4 Q619.5,30.9 617.6,30.9 Q614.9,30.9 614.9,34.7 Q614.9,38.5 617.6,38.5 Q620.4,38.5 620.4,35.2 H617.8" fill="none" stroke="#d3122d" stroke-width="1.6"/>
</svg>
</body></html>
